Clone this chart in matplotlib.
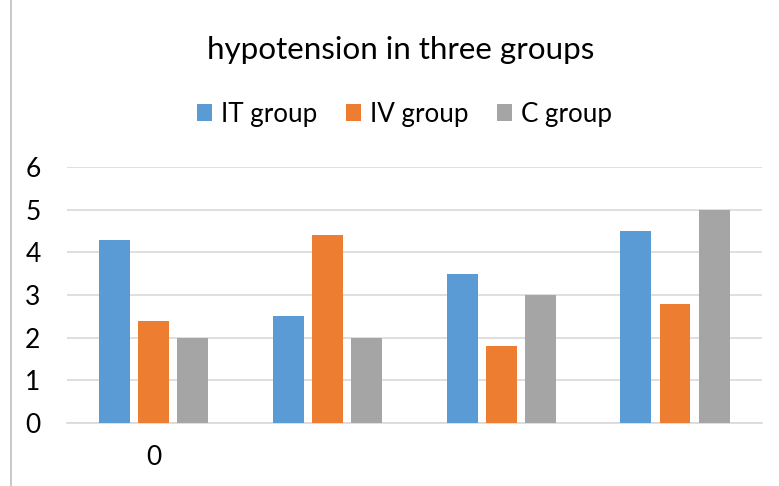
import matplotlib.pyplot as plt
import numpy as np

plt.rcParams['font.family'] = ['Lato', 'DejaVu Sans']

# data
series = ["IT group", "IV group", "C group"]
it_vals = [4.3, 2.5, 3.5, 4.5]
iv_vals = [2.4, 4.4, 1.8, 2.8]
c_vals = [2.0, 2.0, 3.0, 5.0]
cat_labels = ["0", "", "", ""]
colors = ["#5B9BD5", "#ED7D31", "#A5A5A5"]

fig = plt.figure(figsize=(7.79, 4.86), dpi=100)
ax = fig.add_axes([0.086, 0.1296, 0.892, 0.5268])

x = np.arange(len(cat_labels))
w = 0.178
step = 0.225
for i, (name, vals) in enumerate(zip(series, [it_vals, iv_vals, c_vals])):
    ax.bar(x + (i - 1) * step, vals, width=w, color=colors[i], label=name, zorder=3)

ax.set_xlim(-0.5, 3.5)
ax.set_ylim(0, 6)
ax.set_yticks(range(0, 7))
ax.yaxis.grid(True, color="#d9d9d9", linewidth=1.2, zorder=0)
ax.set_xticks(x)
ax.set_xticklabels(cat_labels)
ax.tick_params(axis="both", length=0, labelsize=19, colors="#000000")
ax.tick_params(axis="x", pad=16)
ax.tick_params(axis="y", pad=19)
for s in ["top", "right", "left"]:
    ax.spines[s].set_visible(False)
ax.spines["bottom"].set_color("#d9d9d9")
ax.spines["bottom"].set_linewidth(1.2)

fig.text(0.514, 0.897, "hypotension in three groups", ha="center", va="center", fontsize=22.6)
fig.legend(loc="center", bbox_to_anchor=(0.519, 0.765), ncol=3, frameon=False,
           fontsize=18.7, handlelength=0.58, handleheight=0.58, handletextpad=0.35,
           columnspacing=1.1)

# left border of the chart frame
fig.add_artist(plt.Line2D([0.014, 0.014], [0, 1], color="#bfbfbf", linewidth=1.2))

fig.savefig("out.png", dpi=100)
